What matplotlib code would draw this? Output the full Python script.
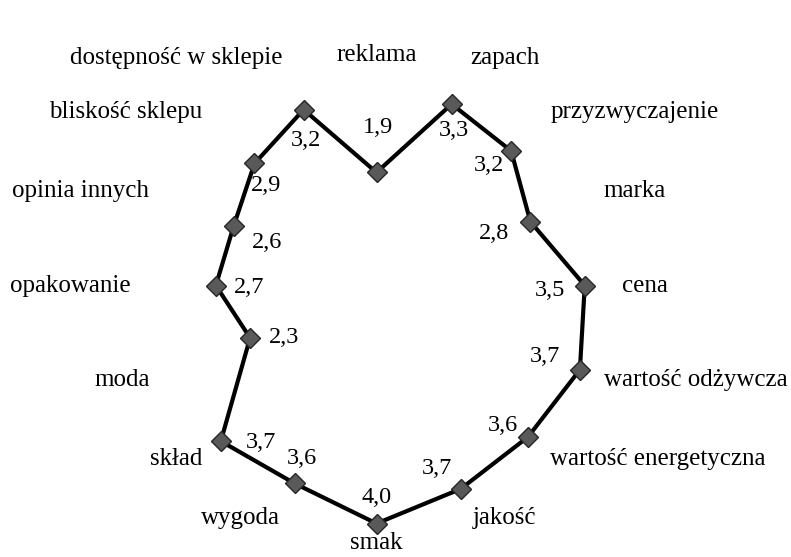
import numpy as np
import matplotlib
matplotlib.use("Agg")
import matplotlib.pyplot as plt

categories = ["reklama", "zapach", "przyzwyczajenie", "marka", "cena",
              "wartość odżywcza", "wartość energetyczna", "jakość", "smak",
              "wygoda", "skład", "moda", "opakowanie", "opinia innych",
              "bliskość sklepu", "dostępność w sklepie"]
values = [1.9, 3.3, 3.2, 2.8, 3.5, 3.7, 3.6, 3.7, 4.0, 3.6, 3.7, 2.3, 2.7, 2.6, 2.9, 3.2]

# pixel offsets of the value labels (dx, dy down)
label_offsets = [(1, -45), (2, 26), (-22, 15), (-36, 12), (-35, 5), (-35, -13),
                 (-25, -11), (-24, -20), (0, -26), (7, -25), (40, 1), (34, 0),
                 (33, 2), (33, 16), (12, 22), (2, 31)]

plt.rcParams["font.family"] = ["Liberation Serif", "DejaVu Serif"]

fig = plt.figure(figsize=(7.91, 5.57), dpi=100)
cx, cy, rad = 376.5, 557 - 285.5, 238
ax = fig.add_axes([(cx - rad) / 791, (cy - rad) / 557, 2 * rad / 791, 2 * rad / 557],
                  projection="polar")
ax.set_theta_offset(np.pi / 2)
ax.set_theta_direction(-1)
ax.set_ylim(0, 4)
ax.axis("off")

n = len(categories)
angles = np.arange(n) * 2 * np.pi / n
a_closed = np.append(angles, angles[0])
v_closed = np.append(values, values[0])

ax.plot(a_closed, v_closed, color="black", lw=3, zorder=2, clip_on=False)
ax.plot(angles, values, ls="none", marker="D", ms=10, mfc="#595959",
        mec="#262626", mew=1, zorder=3, clip_on=False)

for a, v, (dx, dy) in zip(angles, values, label_offsets):
    ax.annotate(f"{v:.1f}".replace(".", ","), (a, v), xytext=(dx, -dy),
                textcoords="offset pixels", ha="center", va="center",
                fontsize=17.5, annotation_clip=False)

for a, c in zip(angles, categories):
    s, co = np.sin(a), np.cos(a)
    r = 4.13
    if abs(s) < 1e-6:
        ha = "center"
        r = 3.87 if co > 0 else 4.32
    elif s > 0:
        ha = "left"
    else:
        ha = "right"
    if co < -0.9 and abs(s) > 1e-6:
        r += 0.1  # lower labels sit a little further out
    ax.text(a, r, c, ha=ha, va="center", fontsize=18, clip_on=False)

fig.savefig("out.png", dpi=100)
